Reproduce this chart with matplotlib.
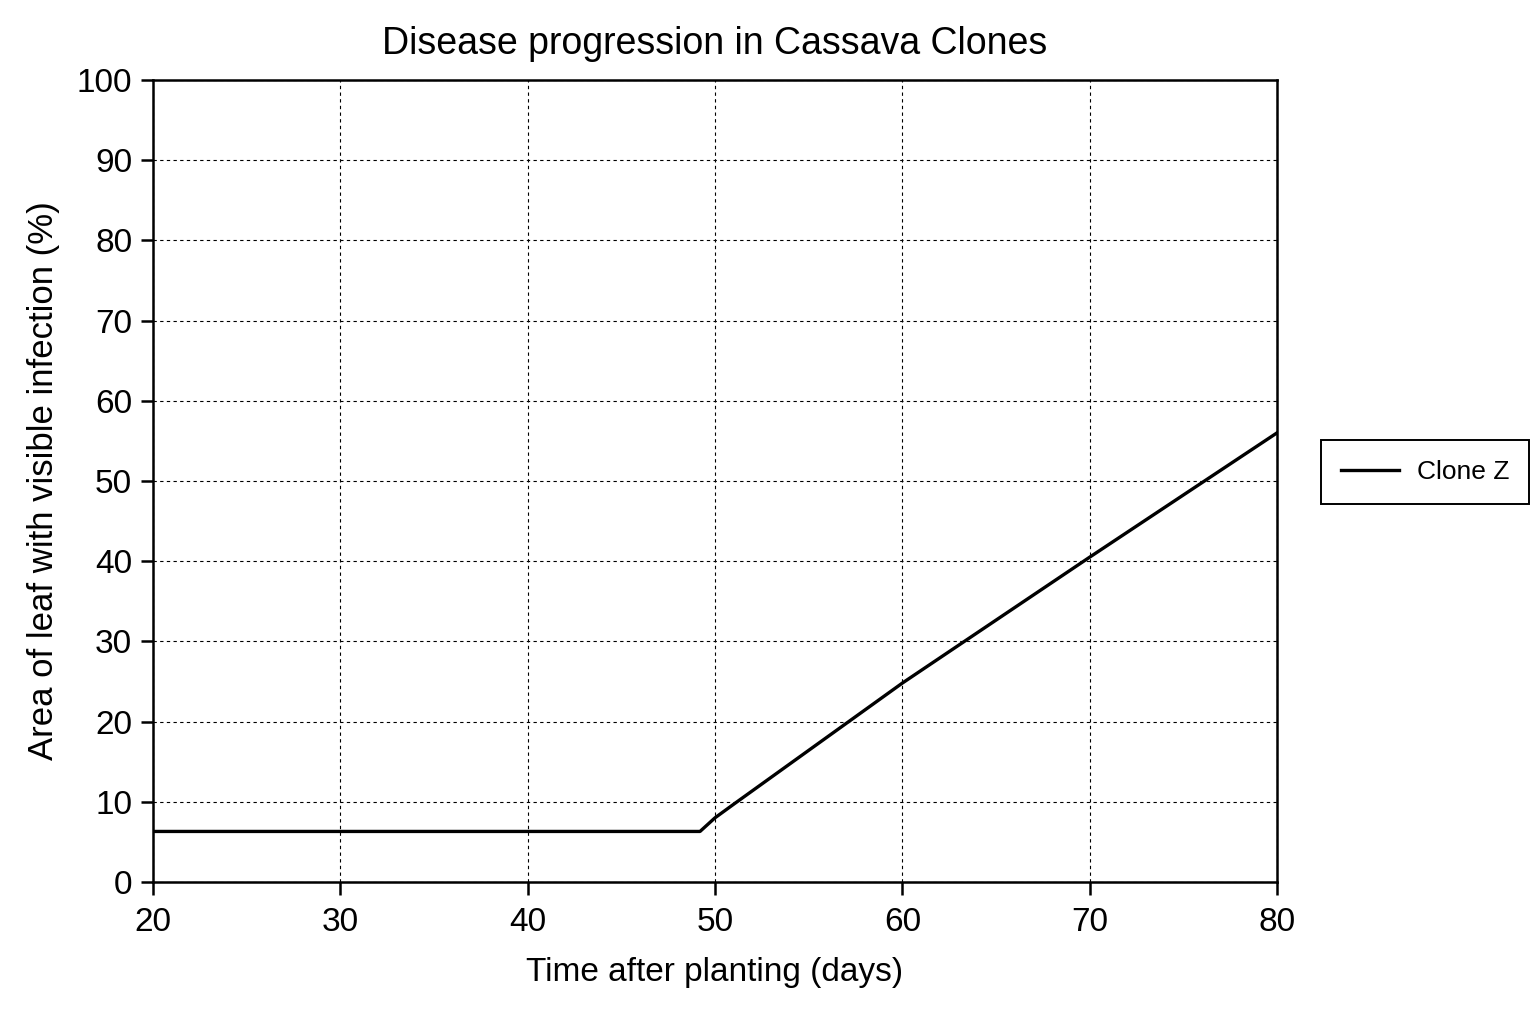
import matplotlib.pyplot as plt

plt.rcParams['font.family'] = ['Liberation Sans', 'DejaVu Sans']

# Clone Z readings (days after planting, % leaf area infected)
days = [20, 49.2, 50, 51, 60, 70, 80]
infection = [6.3, 6.3, 8.0, 9.7, 24.8, 40.5, 56.0]

x_ticks = [20, 30, 40, 50, 60, 70, 80]
y_ticks = [0, 10, 20, 30, 40, 50, 60, 70, 80, 90, 100]

fig = plt.figure(figsize=(15.36, 10.24), dpi=100)
ax = fig.add_axes([0.0996, 0.1387, 0.7318, 0.7832])

ax.plot(days, infection, color='black', lw=2.4, label='Clone Z')

ax.set_xlim(20, 80)
ax.set_ylim(0, 100)
ax.set_xticks(x_ticks)
ax.set_yticks(y_ticks)
ax.grid(True, color='black', ls=(0, (3, 3)), lw=0.8)
for s in ax.spines.values():
    s.set_linewidth(1.8)
ax.tick_params(labelsize=24, width=1.8, length=9, pad=6)
ax.tick_params(axis='x', pad=9)

ax.set_title('Disease progression in Cassava Clones', fontsize=27, pad=19)
ax.set_xlabel('Time after planting (days)', fontsize=24, labelpad=14)
ax.set_ylabel('Area of leaf with visible infection (%)', fontsize=25, labelpad=12)

leg = ax.legend(loc='center left', bbox_to_anchor=(1.039, 0.511), fontsize=19,
                fancybox=False, edgecolor='black', framealpha=1,
                handlelength=2.2, handletextpad=0.7, borderpad=0.75,
                borderaxespad=0)
leg.get_frame().set_linewidth(1.4)

fig.savefig('out.png', dpi=100)
